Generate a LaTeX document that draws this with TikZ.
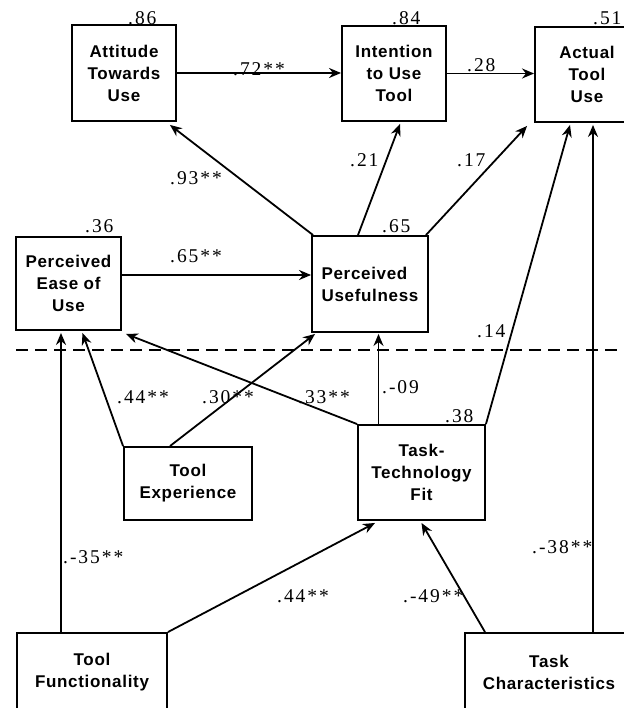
\documentclass[tikz,border=0pt]{standalone}
\usepackage{fontspec}
\setmainfont{Liberation Serif}
\newfontfamily\boxfont{Liberation Sans}[LetterSpace=4]
\newfontfamily\numfont{Liberation Serif}[LetterSpace=10]
\usetikzlibrary{arrows.meta}
\begin{document}
\begin{tikzpicture}[x=1pt,y=-1pt,
  box/.style={draw,line width=1.9pt,inner sep=0pt,font=\boxfont\bfseries\fontsize{17}{22}\selectfont,align=center},
  arr/.style={line width=1.8pt,-{Stealth[length=12pt,width=10pt]}},
  lab/.style={anchor=base west,inner sep=0pt,font=\numfont\fontsize{19.5}{19.5}\selectfont},
  sep/.style={line width=1.6pt,dash pattern=on 12pt off 7pt}]
\useasboundingbox (0,0) rectangle (623,708);
% boxes
\node[box,minimum width=104pt,minimum height=96pt] (att) at (124,73) {Attitude\\Towards\\Use};
\node[box,minimum width=104pt,minimum height=95pt] (int) at (394,73.5) {Intention\\to Use\\Tool};
\node[box,minimum width=104pt,minimum height=95pt] (act) at (587,74.5) {Actual\\Tool\\Use};
\node[box,minimum width=105pt,minimum height=93pt] (peou) at (68.5,283.5) {Perceived\\Ease of\\Use};
\node[box,minimum width=116pt,minimum height=96pt,align=left] (pu) at (370,284) {Perceived\\Usefulness};
\node[box,minimum width=128pt,minimum height=73pt] (te) at (188,483.5) {Tool\\Experience};
\node[box,minimum width=127pt,minimum height=95pt] (ttf) at (421.5,472.5) {Task-\\Technology\\Fit};
\node[box,minimum width=150pt,minimum height=79pt] (tf) at (92,672.5) {Tool\\Functionality};
\node[box,minimum width=168pt,minimum height=79pt] (tc) at (549,672.5) {Task\\Characteristics};
% dashed separator
\coordinate (dl) at (16,350);
\coordinate (dr) at (623,350);
\draw[sep] (dl) -- (dr);
% helper coordinates
\coordinate (ttfup) at ([xshift=-43pt]ttf.north);
\coordinate (tfup) at ([xshift=-31pt]tf.north);
\coordinate (tcup) at ([xshift=44pt]tc.north);
% arrows
\draw[arr] (att.east) -- (att.east -| int.west);
\draw[arr] (int.east) -- (int.east -| act.west);
\draw[arr] ([xshift=2pt]pu.north west) -- ([xshift=-7pt,yshift=-3pt]att.south east);
\draw[arr] ([xshift=-12pt]pu.north) -- ([xshift=6pt,yshift=-2pt]int.south);
\draw[arr] ([xshift=-3pt]pu.north east) -- ([xshift=-7pt,yshift=-3pt]act.south west);
\draw[arr] (ttf.north east) -- ([xshift=-17pt,yshift=-2pt]act.south);
\draw[arr] (tcup) -- ([yshift=-2pt]tcup |- act.south);
\draw[arr] ([yshift=8.5pt]peou.east) -- ([yshift=8.5pt]peou.east -| pu.west);
\draw[arr] (te.north west) -- ([xshift=14pt,yshift=-2pt]peou.south);
\draw[arr] ([xshift=-18pt]te.north) -- ([xshift=4pt,yshift=-1pt]pu.south west);
\draw[arr] (ttf.north west) -- ([xshift=4pt,yshift=-3pt]peou.south east);
\draw[arr] (ttfup) -- ([yshift=-1pt]ttfup |- pu.south);
\draw[arr] (tfup) -- ([yshift=-2pt]tfup |- peou.south);
\draw[arr] (tf.north east) -- ([xshift=-46.5pt,yshift=-2pt]ttf.south);
\draw[arr] ([xshift=-64pt]tc.north) -- ([yshift=-2pt]ttf.south);
% labels
\node[lab] (l86) at (128,25) {.86};
\node[lab] (l84) at (392,25) {.84};
\node[lab] (l51) at (593,25) {.51};
\node[lab] (l72) at (233,76) {.72**};
\node[lab] (l28) at (467,72) {.28};
\node[lab] (l93) at (170,185) {.93**};
\node[lab] (l21) at (350,167) {.21};
\node[lab] (l17) at (457,167) {.17};
\node[lab] (l36) at (85,233) {.36};
\node[lab] (l65a) at (170,262) {.65**};
\node[lab] (l65b) at (382,233) {.65};
\node[lab] (l14) at (477,337) {.14};
\node[lab] (l44a) at (117,403) {.44**};
\node[lab] (l30) at (202,403) {.30**};
\node[lab] (l33) at (298,403) {.33**};
\node[lab] (l09) at (382,393) {.-09};
\node[lab] (l38) at (445,422) {.38};
\node[lab] (l35) at (63,563) {.-35**};
\node[lab] (l44b) at (277,602) {.44**};
\node[lab] (l49) at (403,602) {.-49**};
\node[lab] (l38b) at (532,553) {.-38**};
\end{tikzpicture}
\end{document}
